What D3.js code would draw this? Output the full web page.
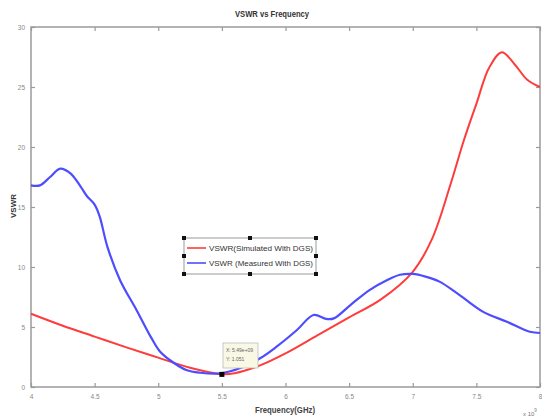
<!DOCTYPE html>
<html>
<head>
<meta charset="utf-8">
<script src="https://cdn.jsdelivr.net/npm/d3@7"></script>
<style>
  body { margin: 0; background: #fff; }
  text { font-family: "Liberation Sans", Arial, sans-serif; }
</style>
</head>
<body>
<div class="viz"></div>
<script>
// simulated curve
var freqSim = [4.0, 4.25, 4.5, 4.75, 5.0, 5.25, 5.5, 5.6, 5.8, 6.0, 6.25, 6.5, 6.75, 7.0, 7.15, 7.3, 7.4, 7.5, 7.6, 7.7, 7.8, 7.9, 8.0];
var vswrSim = [6.1, 5.1, 4.2, 3.3, 2.45, 1.6, 1.07, 1.15, 1.8, 2.8, 4.3, 5.8, 7.3, 9.6, 12.3, 17.0, 20.5, 23.6, 26.6, 27.9, 26.9, 25.6, 25.0];

// measured curve
var freqMeas = [4.0, 4.07, 4.15, 4.23, 4.31, 4.39, 4.44, 4.5, 4.54, 4.6, 4.7, 4.83, 4.94, 5.01, 5.09, 5.22, 5.33, 5.49, 5.64, 5.8, 5.93, 6.09, 6.22, 6.32, 6.38, 6.51, 6.66, 6.8, 6.9, 7.0, 7.1, 7.21, 7.35, 7.55, 7.74, 7.92, 8.0];
var vswrMeas = [16.8, 16.8, 17.5, 18.2, 17.8, 16.7, 15.9, 15.2, 14.2, 11.7, 8.9, 6.4, 4.2, 3.0, 2.25, 1.42, 1.19, 1.14, 1.56, 2.39, 3.36, 4.75, 6.0, 5.67, 5.72, 6.83, 8.08, 8.92, 9.35, 9.42, 9.2, 8.78, 7.8, 6.28, 5.44, 4.6, 4.5];

var xTicks = [4, 4.5, 5, 5.5, 6, 6.5, 7, 7.5, 8];
var yTicks = [0, 5, 10, 15, 20, 25, 30];
var legendNames = ["VSWR(Simulated With DGS)", "VSWR (Measured With DGS)"];
var tipPoint = [5.5, 1.051];
var tipLines = ["X: 5.49e+09", "Y: 1.051"];

var width = 542, height = 419;
var plotL = 31, plotR = 540, plotT = 27, plotB = 387;

var svg = d3.select(".viz").append("svg")
    .attr("width", width)
    .attr("height", height);

var x = d3.scaleLinear().domain([4, 8]).range([plotL, plotR]);
var y = d3.scaleLinear().domain([0, 30]).range([plotB, plotT]);

var axisColor = "#9a9a9a";

// frame
svg.append("rect")
    .attr("x", plotL).attr("y", plotT)
    .attr("width", plotR - plotL).attr("height", plotB - plotT)
    .attr("fill", "none").attr("stroke", axisColor).attr("stroke-width", 1.5);

// inward ticks on all four sides
function styleAxis(g) {
    g.select(".domain").remove();
    g.selectAll(".tick line").attr("stroke", axisColor).attr("stroke-width", 1.2);
    g.selectAll(".tick text").attr("fill", "#888").style("font-size", "6.5px");
}

svg.append("g").attr("transform", "translate(0," + plotB + ")")
    .call(d3.axisBottom(x).tickValues(xTicks).tickSize(-4).tickPadding(7).tickFormat(d3.format("")))
    .call(styleAxis);
svg.append("g").attr("transform", "translate(0," + plotT + ")")
    .call(d3.axisTop(x).tickValues(xTicks).tickSize(-4).tickFormat(""))
    .call(styleAxis);
svg.append("g").attr("transform", "translate(" + plotL + ",0)")
    .call(d3.axisLeft(y).tickValues(yTicks).tickSize(-4).tickPadding(6))
    .call(styleAxis);
svg.append("g").attr("transform", "translate(" + plotR + ",0)")
    .call(d3.axisRight(y).tickValues(yTicks).tickSize(-4).tickFormat(""))
    .call(styleAxis);

// curves
var line = d3.line()
    .x(function(d) { return x(d[0]); })
    .y(function(d) { return y(d[1]); })
    .curve(d3.curveCatmullRom.alpha(0.5));

var simData = freqSim.map(function(f, i) { return [f, vswrSim[i]]; });
var measData = freqMeas.map(function(f, i) { return [f, vswrMeas[i]]; });

var colors = ["#ff3c3c", "#4d4dff"];

svg.append("path").datum(simData)
    .attr("d", line).attr("fill", "none")
    .attr("stroke", colors[0]).attr("stroke-width", 2);
svg.append("path").datum(measData)
    .attr("d", line).attr("fill", "none")
    .attr("stroke", colors[1]).attr("stroke-width", 2.2);

// title and labels
svg.append("text")
    .attr("x", 272).attr("y", 17)
    .attr("text-anchor", "middle")
    .style("font-size", "9px").style("font-weight", "bold").attr("fill", "#333")
    .attr("textLength", 74).attr("lengthAdjust", "spacingAndGlyphs")
    .text("VSWR vs Frequency");

svg.append("text")
    .attr("transform", "translate(16,206) rotate(-90)")
    .attr("text-anchor", "middle")
    .style("font-size", "8px").style("font-weight", "bold").attr("fill", "#333")
    .text("VSWR");

svg.append("text")
    .attr("x", 285).attr("y", 413)
    .attr("text-anchor", "middle")
    .style("font-size", "8.5px").style("font-weight", "bold").attr("fill", "#444")
    .attr("textLength", 60).attr("lengthAdjust", "spacingAndGlyphs")
    .text("Frequency(GHz)");

var expo = svg.append("text")
    .attr("x", 523).attr("y", 416)
    .style("font-size", "6px").attr("fill", "#777");
expo.append("tspan").text("x 10");
expo.append("tspan").attr("dy", -4).style("font-size", "4.5px").text("9");

// legend
var lg = { x0: 184, y0: 238, x1: 316, y1: 274 };
svg.append("rect")
    .attr("x", lg.x0).attr("y", lg.y0)
    .attr("width", lg.x1 - lg.x0).attr("height", lg.y1 - lg.y0)
    .attr("fill", "#fff").attr("stroke", "#999").attr("stroke-width", 1);

legendNames.forEach(function(name, i) {
    var ly = 248 + i * 15;
    svg.append("line")
        .attr("x1", 187).attr("x2", 206).attr("y1", ly).attr("y2", ly)
        .attr("stroke", colors[i]).attr("stroke-width", 1.6);
    svg.append("text")
        .attr("x", 209).attr("y", ly + 2.5)
        .style("font-size", "7px").attr("fill", "#333")
        .attr("textLength", 104).attr("lengthAdjust", "spacingAndGlyphs")
        .text(name);
});

var handles = [];
[lg.x0, (lg.x0 + lg.x1) / 2, lg.x1].forEach(function(hx) {
    [lg.y0, (lg.y0 + lg.y1) / 2, lg.y1].forEach(function(hy) {
        if (!(hx === (lg.x0 + lg.x1) / 2 && hy === (lg.y0 + lg.y1) / 2)) handles.push([hx, hy]);
    });
});
svg.selectAll(".handle").data(handles).enter().append("rect")
    .attr("class", "handle")
    .attr("x", function(d) { return d[0] - 2; })
    .attr("y", function(d) { return d[1] - 2; })
    .attr("width", 4).attr("height", 4)
    .attr("fill", "#111");

// data tip
svg.append("rect")
    .attr("x", 223).attr("y", 343)
    .attr("width", 35).attr("height", 25)
    .attr("fill", "#f8f8e4").attr("stroke", "#bbb").attr("stroke-width", 0.8);
tipLines.forEach(function(t, i) {
    svg.append("text")
        .attr("x", 226).attr("y", 352 + i * 9)
        .style("font-size", "5px").attr("fill", "#666")
        .text(t);
});
svg.append("rect")
    .attr("x", x(tipPoint[0]) - 2.5).attr("y", y(tipPoint[1]) - 2.5)
    .attr("width", 5).attr("height", 5)
    .attr("fill", "#000");
</script>
</body>
</html>
